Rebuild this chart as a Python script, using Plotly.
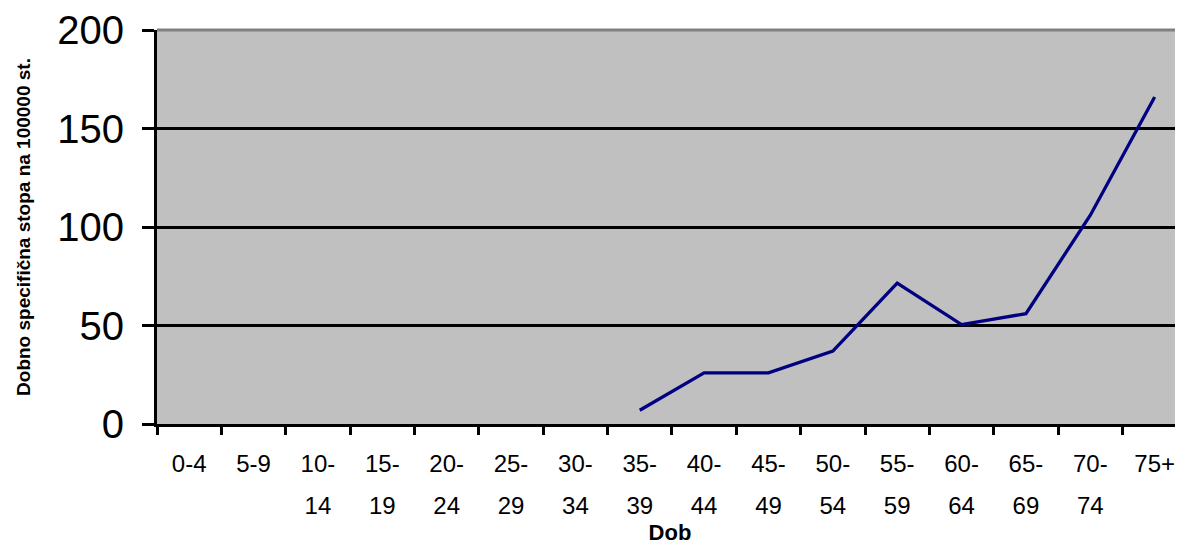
import plotly.graph_objects as go

categories = ["0-4", "5-9", "10-14", "15-19", "20-24", "25-29", "30-34", "35-39",
              "40-44", "45-49", "50-54", "55-59", "60-64", "65-69", "70-74", "75+"]
rates = [None, None, None, None, None, None, None, 7,
         26, 26, 37, 71.5, 50.5, 56, 106, 166]
tick_line1 = ["0-4", "5-9", "10-", "15-", "20-", "25-", "30-", "35-",
              "40-", "45-", "50-", "55-", "60-", "65-", "70-", "75+"]
tick_line2 = ["", "", "14", "19", "24", "29", "34", "39",
              "44", "49", "54", "59", "64", "69", "74", ""]
y_ticks = [0, 50, 100, 150, 200]

FONT = "Arial, Liberation Sans, sans-serif"

fig = go.Figure()
fig.add_trace(go.Scatter(
    x=categories, y=rates, mode="lines",
    line=dict(color="#000080", width=3.3),
    connectgaps=False, showlegend=False, hoverinfo="skip",
))
# invisible trace on the overlay axis to carry the second label line
fig.add_trace(go.Scatter(
    x=categories, y=[None] * len(categories), xaxis="x2", yaxis="y",
    mode="lines", showlegend=False, hoverinfo="skip",
))

fig.update_layout(
    width=1175, height=537,
    margin=dict(l=149, r=0, t=22, b=117),
    paper_bgcolor="white",
    plot_bgcolor="#C0C0C0",
    font=dict(family=FONT, color="black"),
    xaxis=dict(
        type="category", categoryorder="array", categoryarray=categories,
        range=[-0.5, 15.44],
        tickmode="array", tickvals=categories, ticktext=tick_line1,
        tickson="boundaries", ticks="outside", ticklen=8, tickwidth=3,
        tickcolor="black", showline=True, linecolor="black", linewidth=3,
        showgrid=False, tickfont=dict(size=24, family=FONT),
        ticklabelstandoff=16,
        title=dict(text="<b>Dob</b>", font=dict(size=22, family=FONT), standoff=53),
    ),
    xaxis2=dict(
        type="category", categoryorder="array", categoryarray=categories,
        range=[-0.5, 15.44], overlaying="x", side="bottom", anchor="y",
        tickmode="array", tickvals=categories, ticktext=tick_line2,
        ticks="", showline=False, showgrid=False,
        tickfont=dict(size=24, family=FONT), ticklabelstandoff=65,
    ),
    yaxis=dict(
        range=[0, 200], tickmode="array", tickvals=y_ticks,
        ticks="outside", ticklen=12, tickwidth=3, tickcolor="black",
        showline=True, linecolor="black", linewidth=3,
        showgrid=True, gridcolor="black", gridwidth=3, zeroline=False,
        tickfont=dict(size=40, family=FONT), ticklabelstandoff=10,
        title=dict(text="<b>Dobno specifična stopa na 100000 st.</b>",
                   font=dict(size=19, family=FONT), standoff=22),
    ),
    shapes=[dict(type="line", xref="paper", yref="paper", x0=0, x1=1, y0=1, y1=1,
                 line=dict(color="#808080", width=3))],
)

fig.write_html("out.html")
